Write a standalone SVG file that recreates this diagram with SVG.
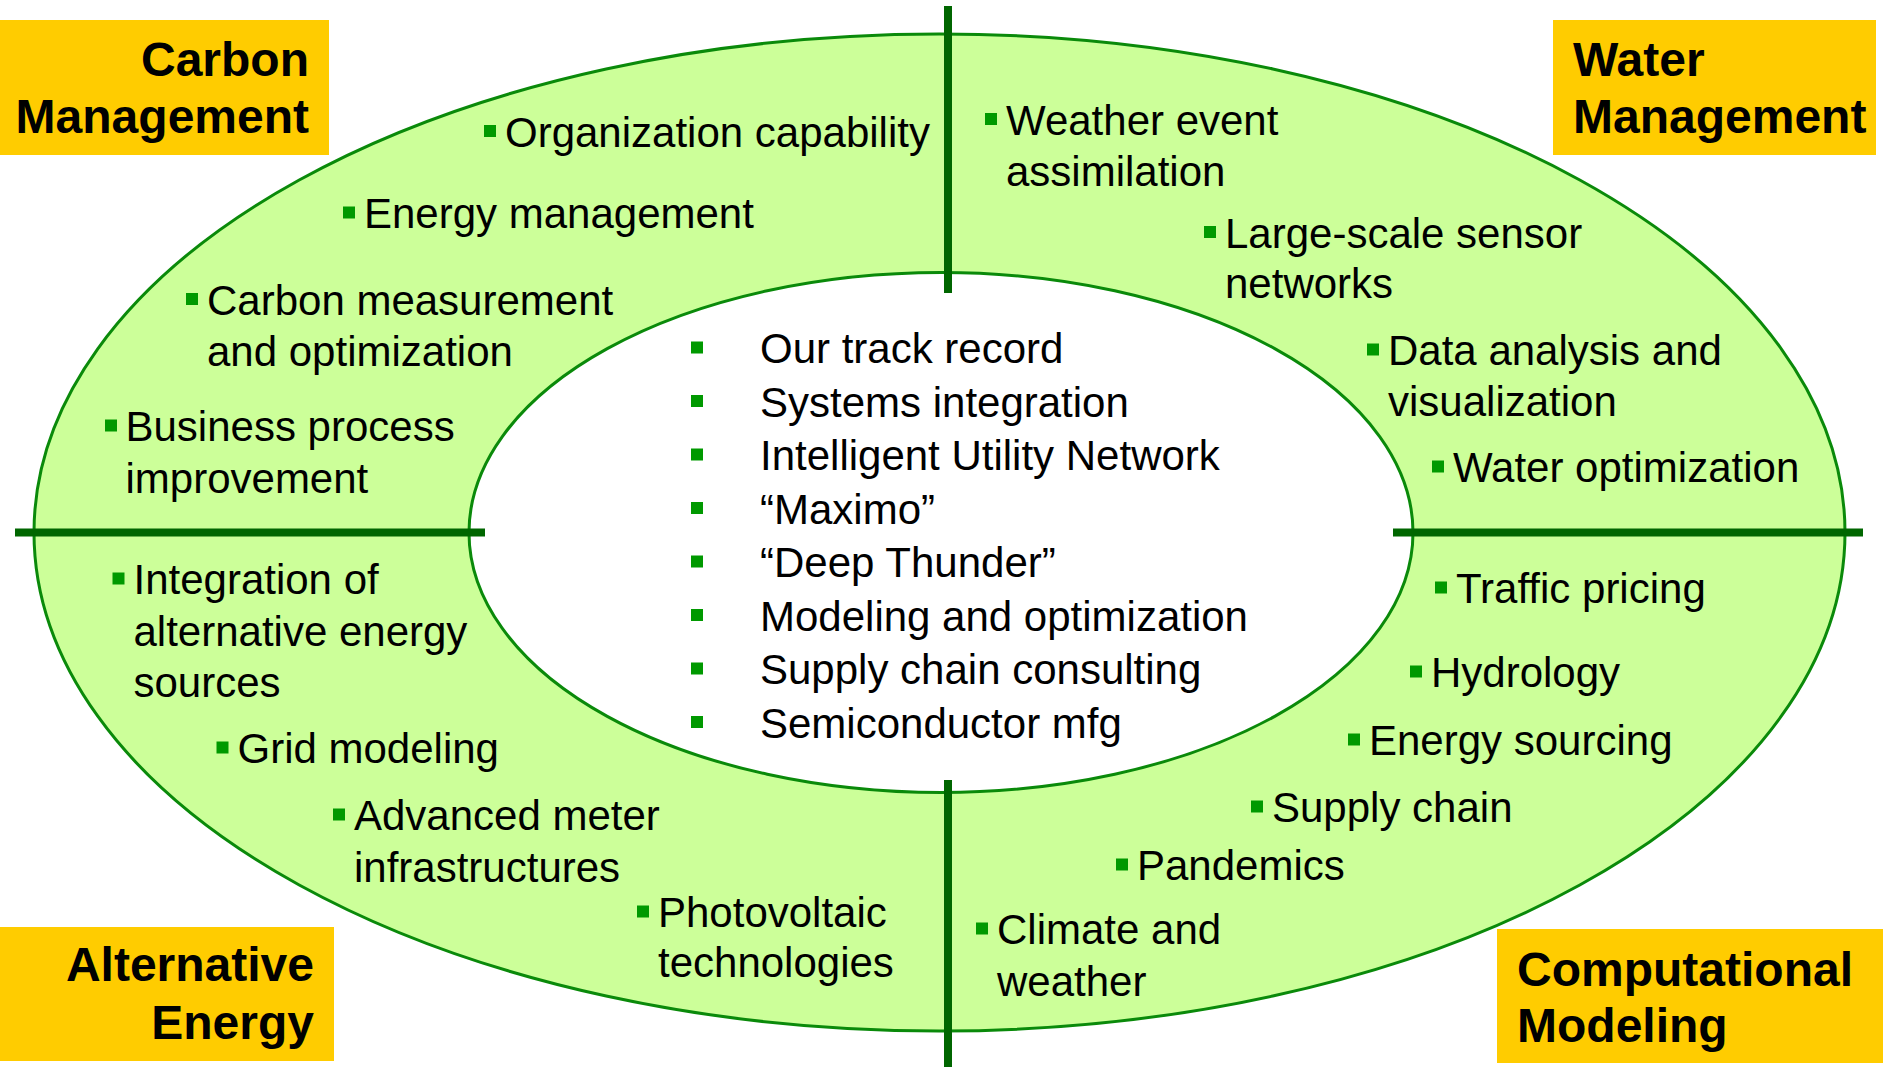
<svg xmlns="http://www.w3.org/2000/svg" width="1883" height="1067" viewBox="0 0 1883 1067">
<style>
.bg{fill:#ffffff}
.ring{fill:#CCFF99;stroke:#0A8A0A;stroke-width:3}
.hole{fill:#ffffff;stroke:#0A8A0A;stroke-width:3}
.div{stroke:#006600;stroke-width:8;fill:none}
.box{fill:#FFCC00}
.title{font-family:"Liberation Sans",Arial,sans-serif;font-weight:bold;font-size:48px;fill:#000}
.item{font-family:"Liberation Sans",Arial,sans-serif;font-size:42px;fill:#000}
.b{fill:#009900}
</style>
<rect class="bg" x="0" y="0" width="1883" height="1067"/>
<g id="ring">
<ellipse class="ring" cx="939.5" cy="532.5" rx="905.5" ry="498.5"/>
<ellipse class="hole" cx="941" cy="532.5" rx="472" ry="260"/>
</g>
<g id="connectors">
<line class="div" x1="948" y1="6" x2="948" y2="293"/>
<line class="div" x1="948" y1="780" x2="948" y2="1067"/>
<line class="div" x1="15" y1="532.5" x2="485" y2="532.5"/>
<line class="div" x1="1393" y1="532.5" x2="1863" y2="532.5"/>
</g>
<g id="carbon-management">
<rect class="box" x="0" y="20" width="329" height="135"/>
<text class="title" text-anchor="end" x="309" y="76">Carbon<tspan x="309" y="133">Management</tspan></text>
</g>
<g id="water-management">
<rect class="box" x="1553" y="20" width="323" height="135"/>
<text class="title" x="1573" y="76">Water<tspan x="1573" y="133">Management</tspan></text>
</g>
<g id="alternative-energy">
<rect class="box" x="0" y="927" width="334" height="134"/>
<text class="title" text-anchor="end" x="314" y="981">Alternative<tspan x="314" y="1039">Energy</tspan></text>
</g>
<g id="computational-modeling">
<rect class="box" x="1497" y="929" width="386" height="134"/>
<text class="title" x="1517" y="986">Computational<tspan x="1517" y="1042">Modeling</tspan></text>
</g>
<g id="carbon-items">
<rect class="b" x="484" y="125" width="12" height="12"/>
<text class="item" x="505" y="146.5">Organization capability</text>
<rect class="b" x="343" y="206.5" width="12" height="12"/>
<text class="item" x="364" y="228">Energy management</text>
<rect class="b" x="186" y="293" width="12" height="12"/>
<text class="item" x="207" y="314.5">Carbon measurement<tspan x="207" y="366">and optimization</tspan></text>
<rect class="b" x="105" y="419.5" width="12" height="12"/>
<text class="item" x="125.5" y="441">Business process<tspan x="125.5" y="493">improvement</tspan></text>
</g>
<g id="water-items">
<rect class="b" x="985" y="113" width="12" height="12"/>
<text class="item" x="1006" y="134.5">Weather event<tspan x="1006" y="186">assimilation</tspan></text>
<rect class="b" x="1204" y="226" width="12" height="12"/>
<text class="item" x="1225" y="247.5">Large-scale sensor<tspan x="1225" y="298">networks</tspan></text>
<rect class="b" x="1367" y="343.5" width="12" height="12"/>
<text class="item" x="1388" y="365">Data analysis and<tspan x="1388" y="415.5">visualization</tspan></text>
<rect class="b" x="1432" y="460.5" width="12" height="12"/>
<text class="item" x="1453" y="482">Water optimization</text>
</g>
<g id="alternative-items">
<rect class="b" x="112.5" y="572.5" width="12" height="12"/>
<text class="item" x="133.5" y="594">Integration of<tspan x="133.5" y="646">alternative energy</tspan><tspan x="133.5" y="697">sources</tspan></text>
<rect class="b" x="216.5" y="741.5" width="12" height="12"/>
<text class="item" x="237.5" y="763">Grid modeling</text>
<rect class="b" x="333" y="808.5" width="12" height="12"/>
<text class="item" x="354" y="830">Advanced meter<tspan x="354" y="882">infrastructures</tspan></text>
<rect class="b" x="637" y="905.5" width="12" height="12"/>
<text class="item" x="658" y="927">Photovoltaic<tspan x="658" y="977">technologies</tspan></text>
</g>
<g id="computational-items">
<rect class="b" x="1435" y="581.5" width="12" height="12"/>
<text class="item" x="1456" y="603">Traffic pricing</text>
<rect class="b" x="1410" y="665.5" width="12" height="12"/>
<text class="item" x="1431" y="687">Hydrology</text>
<rect class="b" x="1348" y="733.5" width="12" height="12"/>
<text class="item" x="1369" y="755">Energy sourcing</text>
<rect class="b" x="1251" y="800.5" width="12" height="12"/>
<text class="item" x="1272" y="822">Supply chain</text>
<rect class="b" x="1116" y="858.5" width="12" height="12"/>
<text class="item" x="1137" y="880">Pandemics</text>
<rect class="b" x="976" y="922.5" width="12" height="12"/>
<text class="item" x="997" y="944">Climate and<tspan x="997" y="996">weather</tspan></text>
</g>
<g id="core-items">
<rect class="b" x="691" y="341.5" width="12" height="12"/>
<text class="item" x="760" y="363">Our track record</text>
<rect class="b" x="691" y="395" width="12" height="12"/>
<text class="item" x="760" y="416.5">Systems integration</text>
<rect class="b" x="691" y="448.5" width="12" height="12"/>
<text class="item" x="760" y="470">Intelligent Utility Network</text>
<rect class="b" x="691" y="502" width="12" height="12"/>
<text class="item" x="760" y="523.5">“Maximo”</text>
<rect class="b" x="691" y="555.5" width="12" height="12"/>
<text class="item" x="760" y="577">“Deep Thunder”</text>
<rect class="b" x="691" y="609" width="12" height="12"/>
<text class="item" x="760" y="630.5">Modeling and optimization</text>
<rect class="b" x="691" y="662.5" width="12" height="12"/>
<text class="item" x="760" y="684">Supply chain consulting</text>
<rect class="b" x="691" y="716" width="12" height="12"/>
<text class="item" x="760" y="737.5">Semiconductor mfg</text>
</g>
</svg>
